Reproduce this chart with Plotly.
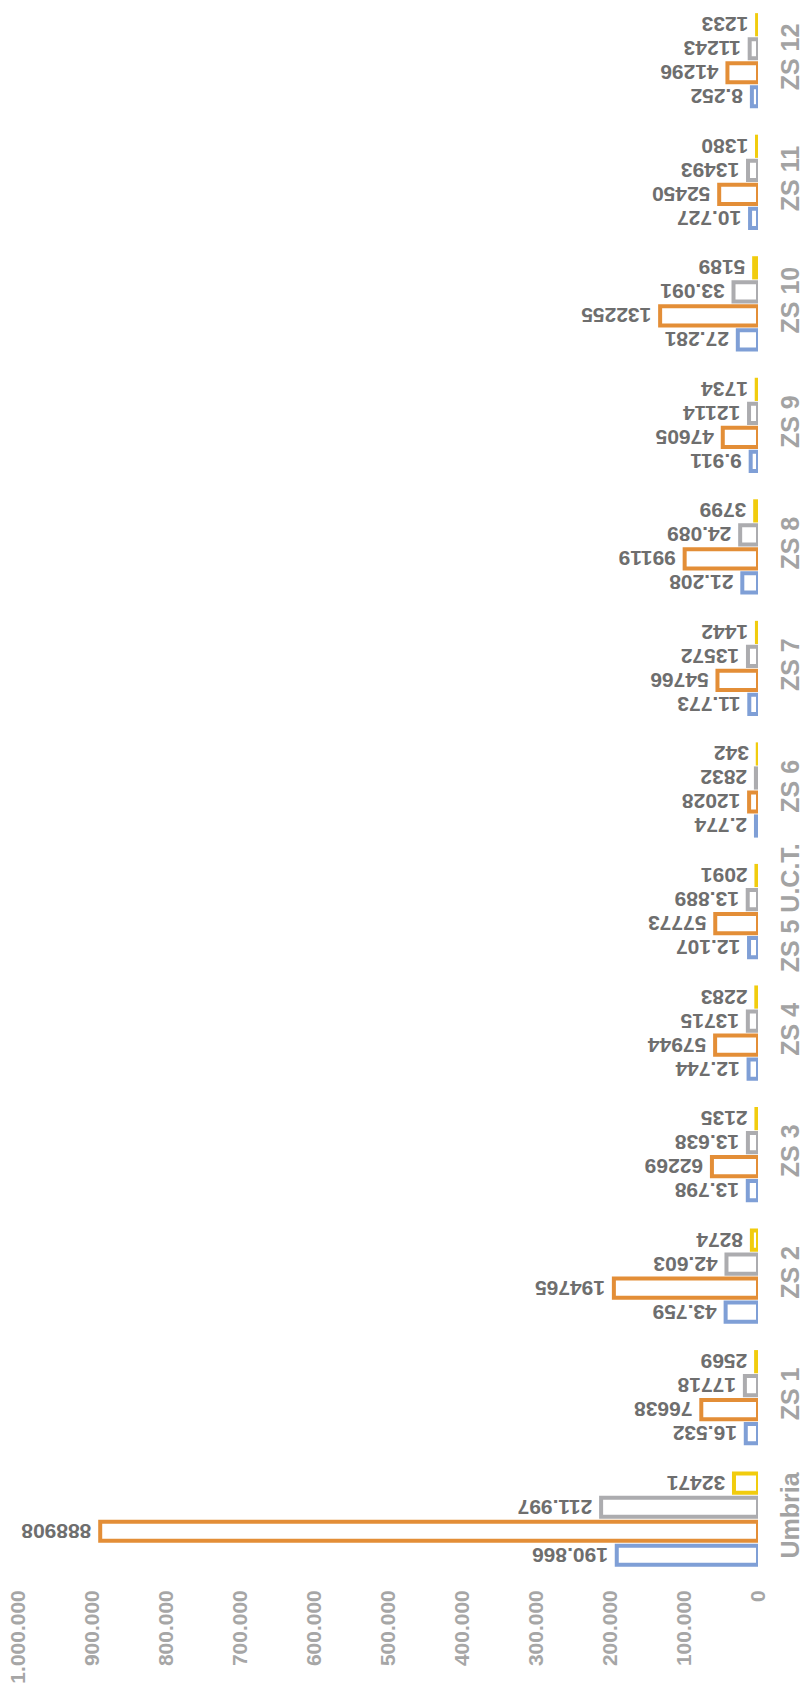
import plotly.graph_objects as go

categories = ["Umbria", "ZS 1", "ZS 2", "ZS 3", "ZS 4", "ZS 5 U.C.T.", "ZS 6",
              "ZS 7", "ZS 8", "ZS 9", "ZS 10", "ZS 11", "ZS 12"]

blue_vals = [190866, 16532, 43759, 13798, 12744, 12107, 2774, 11773, 21208, 9911, 27281, 10727, 8252]
orange_vals = [888908, 76638, 194765, 62269, 57944, 57773, 12028, 54766, 99119, 47605, 132255, 52450, 41296]
gray_vals = [211997, 17718, 42603, 13638, 13715, 13889, 2832, 13572, 24089, 12114, 33091, 13493, 11243]
yellow_vals = [32471, 2569, 8274, 2135, 2283, 2091, 342, 1442, 3799, 1734, 5189, 1380, 1233]

# whether each data label is shown with a thousands dot (as in the reference)
blue_dotted = [True] * 13
orange_dotted = [False] * 13
gray_dotted = [True, False, True, True, False, True, False, False, True, False, True, False, False]
yellow_dotted = [False] * 13

tick_vals = [0, 100000, 200000, 300000, 400000, 500000, 600000, 700000, 800000, 900000, 1000000]


def fmt(v, dotted):
    return f"{v:,}".replace(",", ".") if dotted else str(v)


series = [
    (blue_vals, blue_dotted, "#7F9FD6"),
    (orange_vals, orange_dotted, "#E38E37"),
    (gray_vals, gray_dotted, "#ACACAF"),
    (yellow_vals, yellow_dotted, "#F1CC0E"),
]

fig = go.Figure()
for vals, dots, col in series:
    fig.add_trace(go.Bar(
        y=categories,
        x=vals,
        orientation="h",
        marker=dict(color="white", line=dict(color=col, width=4)),
        text=["\u00a0" + fmt(v, d) for v, d in zip(vals, dots)],
        textposition="outside",
        textangle=180,
        constraintext="none",
        cliponaxis=False,
        textfont=dict(family="Liberation Sans", size=21, color="#6E6E6E", weight="bold"),
        showlegend=False,
        hoverinfo="skip",
    ))

# the page body adds an 8px offset, so the figure is 8px smaller than the window
fig.update_layout(
    width=800,
    height=1689,
    margin=dict(l=10, r=50, t=0, b=117),
    barmode="group",
    bargap=0.21,
    bargroupgap=0.2,
    plot_bgcolor="white",
    paper_bgcolor="white",
    separators=",.",
    font=dict(family="Liberation Sans"),
)

fig.update_xaxes(
    range=[1000000, 0],
    tickvals=tick_vals,
    tickformat=",d",
    tickangle=-90,
    showgrid=False,
    zeroline=False,
    showline=False,
    ticks="",
    ticklabelstandoff=5,
    ticklabeloverflow="allow",
    tickfont=dict(family="Liberation Sans", size=21, color="#A6A6A6", weight="bold"),
    automargin=False,
)

fig.update_yaxes(
    side="right",
    range=[-0.5, 12.434],
    tickangle=-90,
    showgrid=False,
    zeroline=False,
    showline=False,
    ticks="",
    ticklabelstandoff=15,
    tickfont=dict(family="Liberation Sans", size=25, color="#A3A3A3", weight="bold"),
    automargin=False,
)

fig.write_html("out.html")
